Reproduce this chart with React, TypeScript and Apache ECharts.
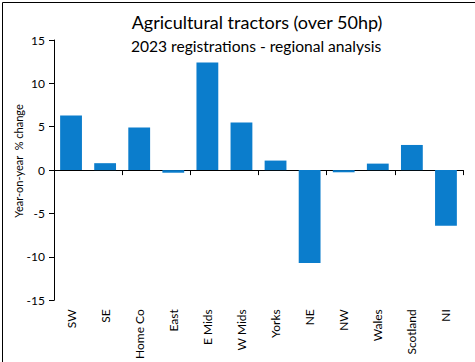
import React, { useEffect, useRef } from "react";
import * as echarts from "echarts";

const categories = ["SW", "SE", "Home Co", "East", "E Mids", "W Mids", "Yorks", "NE", "NW", "Wales", "Scotland", "NI"];
const values = [6.3, 0.8, 4.9, -0.3, 12.4, 5.5, 1.1, -10.7, -0.25, 0.75, 2.9, -6.4];
const yTicks = { min: -15, max: 15, interval: 5 };

const FONT = "Lato, 'Open Sans', sans-serif";

export default function App() {
  const ref = useRef<HTMLDivElement>(null);
  useEffect(() => {
    document.body.style.margin = "0";
    const chart = echarts.init(ref.current!, null, { renderer: "svg" });
    chart.setOption({
      animation: false,
      backgroundColor: "#fff",
      textStyle: { fontFamily: FONT },
      title: [
        {
          text: "Agricultural tractors (over 50hp)",
          left: 252,
          top: 8,
          textAlign: "center",
          textStyle: { fontFamily: FONT, fontSize: 18, fontWeight: "normal", color: "#000" },
        },
        {
          text: "2023 registrations - regional analysis",
          left: 251,
          top: 33,
          textAlign: "center",
          textStyle: { fontFamily: FONT, fontSize: 15.6, fontWeight: "normal", color: "#000" },
        },
      ],
      graphic: [
        {
          type: "rect",
          left: 0,
          top: 0,
          shape: { x: 0.5, y: 0.5, width: 474, height: 360 },
          style: { fill: "none", stroke: "#000", lineWidth: 1 },
          silent: true,
        },
        {
          type: "text",
          x: 18,
          y: 161,
          rotation: Math.PI / 2,
          style: {
            text: "Year-on-year  % change",
            font: `11px ${FONT}`,
            fill: "#000",
            align: "center",
            verticalAlign: "middle",
          },
        },
      ],
      grid: { left: 54, right: 12, top: 40, bottom: 59 },
      xAxis: [
        {
          type: "category",
          data: categories,
          axisLine: { onZero: true, lineStyle: { color: "#000", width: 1 } },
          axisTick: { show: true, length: 5, lineStyle: { color: "#000" } },
          axisLabel: { show: false },
        },
        {
          type: "category",
          data: categories,
          position: "bottom",
          axisLine: { show: false },
          axisTick: { show: false },
          axisLabel: { rotate: 90, margin: 9, fontSize: 12, color: "#000", fontFamily: FONT },
        },
      ],
      yAxis: {
        type: "value",
        min: yTicks.min,
        max: yTicks.max,
        interval: yTicks.interval,
        splitLine: { show: false },
        axisLine: { show: true, lineStyle: { color: "#000" } },
        axisTick: { show: true, length: 5, lineStyle: { color: "#000" } },
        axisLabel: { fontSize: 12, color: "#000", margin: 9, fontFamily: FONT },
      },
      series: [
        {
          type: "bar",
          data: values,
          xAxisIndex: 0,
          barCategoryGap: "36%",
          itemStyle: { color: "#0B7DCC" },
        },
      ],
    });
    return () => chart.dispose();
  }, []);
  return <div ref={ref} style={{ width: 475, height: 362 }} />;
}
